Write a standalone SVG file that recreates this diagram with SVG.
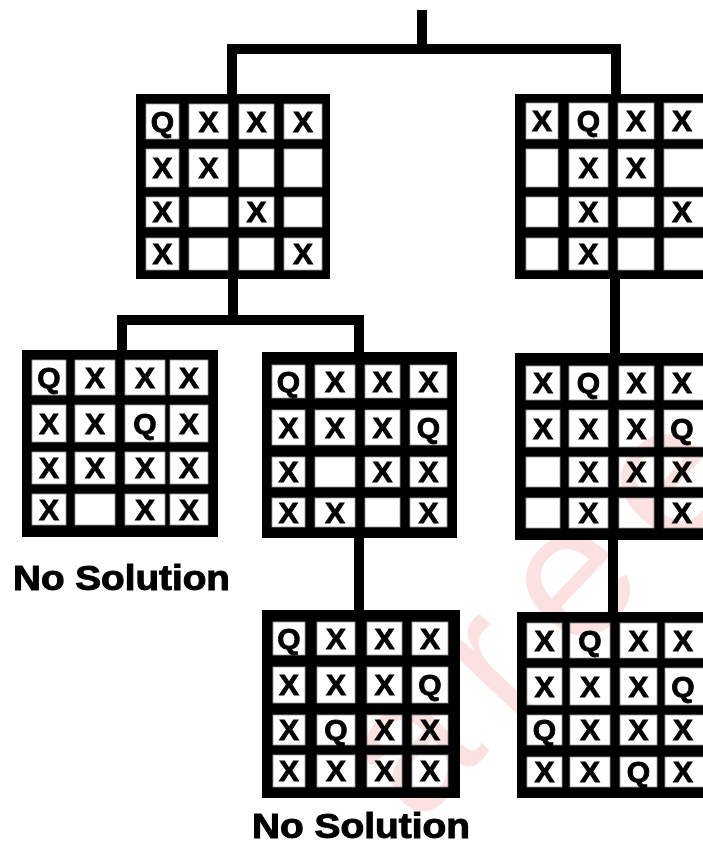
<svg xmlns="http://www.w3.org/2000/svg" width="703" height="843" viewBox="0 0 703 843">
<style>
.bg{fill:#fff}
.board{fill:#000}
.cell{fill:#fff;stroke:#9a9a9a;stroke-width:0.8}
.t{font-family:"Liberation Sans",Arial,sans-serif;font-weight:bold;font-size:30px;fill:#000;stroke:#000;stroke-width:0.9;text-anchor:middle}
.lbl{font-family:"Liberation Sans",Arial,sans-serif;font-weight:bold;font-size:35px;fill:#000;stroke:#000;stroke-width:1}
.wire{stroke:#000;stroke-width:10;fill:none;stroke-linecap:butt}
.wm{font-family:"Liberation Sans",Arial,sans-serif;font-size:190px;letter-spacing:32px;fill:#e53935;opacity:0.15;mix-blend-mode:multiply}
</style>
<rect class="bg" x="0" y="0" width="703" height="843"/>
<g id="connectors">
<path class="wire" d="M422,10 V49" stroke-linecap="round"/>
<path class="wire" d="M422,30 V49"/>
<path class="wire" d="M227,49 H621"/>
<path class="wire" d="M232,44 V96"/>
<path class="wire" d="M616,44 V96"/>
<path class="wire" d="M233,277 V320"/>
<path class="wire" d="M117,320 H364"/>
<path class="wire" d="M122,315 V352"/>
<path class="wire" d="M359,315 V354"/>
<path class="wire" d="M359,536 V612"/>
<path class="wire" d="M615,277 V355"/>
<path class="wire" d="M613,538 V614"/>
</g>
<g id="board1">
<rect class="board" x="136" y="94" width="194" height="185"/>
<rect class="cell" x="146" y="104" width="33" height="35"/><rect class="cell" x="189" y="104" width="39" height="35"/><rect class="cell" x="239" y="104" width="35" height="35"/><rect class="cell" x="284" y="104" width="38" height="35"/>
<rect class="cell" x="146" y="149" width="33" height="38"/><rect class="cell" x="189" y="149" width="39" height="38"/><rect class="cell" x="239" y="149" width="35" height="38"/><rect class="cell" x="284" y="149" width="38" height="38"/>
<rect class="cell" x="146" y="197" width="33" height="30"/><rect class="cell" x="189" y="197" width="39" height="30"/><rect class="cell" x="239" y="197" width="35" height="30"/><rect class="cell" x="284" y="197" width="38" height="30"/>
<rect class="cell" x="146" y="238" width="33" height="32"/><rect class="cell" x="189" y="238" width="39" height="32"/><rect class="cell" x="239" y="238" width="35" height="32"/><rect class="cell" x="284" y="238" width="38" height="32"/>
<text class="t" x="162.5" y="131.5">Q</text><text class="t" x="208.5" y="131.5">X</text><text class="t" x="256.5" y="131.5">X</text><text class="t" x="303" y="131.5">X</text>
<text class="t" x="162.5" y="178">X</text><text class="t" x="208.5" y="178">X</text>
<text class="t" x="162.5" y="222">X</text><text class="t" x="256.5" y="222">X</text>
<text class="t" x="162.5" y="264">X</text><text class="t" x="303" y="264">X</text>
</g>
<g id="board2">
<rect class="board" x="515" y="94" width="195" height="185"/>
<rect class="cell" x="526" y="103" width="32" height="36"/><rect class="cell" x="569" y="103" width="39" height="36"/><rect class="cell" x="618" y="103" width="36" height="36"/><rect class="cell" x="664" y="103" width="40" height="36"/>
<rect class="cell" x="526" y="149" width="32" height="38"/><rect class="cell" x="569" y="149" width="39" height="38"/><rect class="cell" x="618" y="149" width="36" height="38"/><rect class="cell" x="664" y="149" width="40" height="38"/>
<rect class="cell" x="526" y="197" width="32" height="30"/><rect class="cell" x="569" y="197" width="39" height="30"/><rect class="cell" x="618" y="197" width="36" height="30"/><rect class="cell" x="664" y="197" width="40" height="30"/>
<rect class="cell" x="526" y="238" width="32" height="32"/><rect class="cell" x="569" y="238" width="39" height="32"/><rect class="cell" x="618" y="238" width="36" height="32"/><rect class="cell" x="664" y="238" width="40" height="32"/>
<text class="t" x="542" y="131">X</text><text class="t" x="588.5" y="131">Q</text><text class="t" x="636" y="131">X</text><text class="t" x="682" y="131">X</text>
<text class="t" x="588.5" y="178">X</text><text class="t" x="636" y="178">X</text>
<text class="t" x="588.5" y="222">X</text><text class="t" x="682" y="222">X</text>
<text class="t" x="588.5" y="264">X</text>
</g>
<g id="board3">
<rect class="board" x="22" y="350" width="196" height="187"/>
<rect class="cell" x="32" y="360" width="34" height="35"/><rect class="cell" x="75" y="360" width="40" height="35"/><rect class="cell" x="125" y="360" width="40" height="35"/><rect class="cell" x="170" y="360" width="38" height="35"/>
<rect class="cell" x="32" y="405" width="34" height="37"/><rect class="cell" x="75" y="405" width="40" height="37"/><rect class="cell" x="125" y="405" width="40" height="37"/><rect class="cell" x="170" y="405" width="38" height="37"/>
<rect class="cell" x="32" y="452" width="34" height="32"/><rect class="cell" x="75" y="452" width="40" height="32"/><rect class="cell" x="125" y="452" width="40" height="32"/><rect class="cell" x="170" y="452" width="38" height="32"/>
<rect class="cell" x="32" y="494" width="34" height="31"/><rect class="cell" x="75" y="494" width="40" height="31"/><rect class="cell" x="125" y="494" width="40" height="31"/><rect class="cell" x="170" y="494" width="38" height="31"/>
<text class="t" x="49" y="387.5">Q</text><text class="t" x="95" y="387.5">X</text><text class="t" x="145" y="387.5">X</text><text class="t" x="189" y="387.5">X</text>
<text class="t" x="49" y="433.5">X</text><text class="t" x="95" y="433.5">X</text><text class="t" x="145" y="433.5">Q</text><text class="t" x="189" y="433.5">X</text>
<text class="t" x="49" y="478">X</text><text class="t" x="95" y="478">X</text><text class="t" x="145" y="478">X</text><text class="t" x="189" y="478">X</text>
<text class="t" x="49" y="519.5">X</text><text class="t" x="145" y="519.5">X</text><text class="t" x="189" y="519.5">X</text>
</g>
<g id="board4">
<rect class="board" x="262" y="352" width="195" height="186"/>
<rect class="cell" x="272" y="365" width="33" height="33"/><rect class="cell" x="315" y="365" width="40" height="33"/><rect class="cell" x="365" y="365" width="35" height="33"/><rect class="cell" x="410" y="365" width="37" height="33"/>
<rect class="cell" x="272" y="410" width="33" height="35"/><rect class="cell" x="315" y="410" width="40" height="35"/><rect class="cell" x="365" y="410" width="35" height="35"/><rect class="cell" x="410" y="410" width="37" height="35"/>
<rect class="cell" x="272" y="457" width="33" height="30"/><rect class="cell" x="315" y="457" width="40" height="30"/><rect class="cell" x="365" y="457" width="35" height="30"/><rect class="cell" x="410" y="457" width="37" height="30"/>
<rect class="cell" x="272" y="498" width="33" height="29"/><rect class="cell" x="315" y="498" width="40" height="29"/><rect class="cell" x="365" y="498" width="35" height="29"/><rect class="cell" x="410" y="498" width="37" height="29"/>
<text class="t" x="288.5" y="391.5">Q</text><text class="t" x="335" y="391.5">X</text><text class="t" x="382.5" y="391.5">X</text><text class="t" x="428.5" y="391.5">X</text>
<text class="t" x="288.5" y="437.5">X</text><text class="t" x="335" y="437.5">X</text><text class="t" x="382.5" y="437.5">X</text><text class="t" x="428.5" y="437.5">Q</text>
<text class="t" x="288.5" y="482">X</text><text class="t" x="382.5" y="482">X</text><text class="t" x="428.5" y="482">X</text>
<text class="t" x="288.5" y="522.5">X</text><text class="t" x="335" y="522.5">X</text><text class="t" x="428.5" y="522.5">X</text>
</g>
<g id="board5">
<rect class="board" x="515" y="353" width="195" height="187"/>
<rect class="cell" x="526" y="366" width="34" height="34"/><rect class="cell" x="569" y="366" width="39" height="34"/><rect class="cell" x="619" y="366" width="35" height="34"/><rect class="cell" x="664" y="366" width="40" height="34"/>
<rect class="cell" x="526" y="410" width="34" height="37"/><rect class="cell" x="569" y="410" width="39" height="37"/><rect class="cell" x="619" y="410" width="35" height="37"/><rect class="cell" x="664" y="410" width="40" height="37"/>
<rect class="cell" x="526" y="457" width="34" height="30"/><rect class="cell" x="569" y="457" width="39" height="30"/><rect class="cell" x="619" y="457" width="35" height="30"/><rect class="cell" x="664" y="457" width="40" height="30"/>
<rect class="cell" x="526" y="498" width="34" height="30"/><rect class="cell" x="569" y="498" width="39" height="30"/><rect class="cell" x="619" y="498" width="35" height="30"/><rect class="cell" x="664" y="498" width="40" height="30"/>
<text class="t" x="543" y="393">X</text><text class="t" x="588.5" y="393">Q</text><text class="t" x="636.5" y="393">X</text><text class="t" x="682" y="393">X</text>
<text class="t" x="543" y="438.5">X</text><text class="t" x="588.5" y="438.5">X</text><text class="t" x="636.5" y="438.5">X</text><text class="t" x="682" y="438.5">Q</text>
<text class="t" x="588.5" y="482">X</text><text class="t" x="636.5" y="482">X</text><text class="t" x="682" y="482">X</text>
<text class="t" x="588.5" y="523">X</text><text class="t" x="682" y="523">X</text>
</g>
<g id="board6">
<rect class="board" x="262" y="610" width="198" height="188"/>
<rect class="cell" x="273" y="622" width="32" height="33"/><rect class="cell" x="317" y="622" width="38" height="33"/><rect class="cell" x="367" y="622" width="35" height="33"/><rect class="cell" x="412" y="622" width="36" height="33"/>
<rect class="cell" x="273" y="667" width="32" height="36"/><rect class="cell" x="317" y="667" width="38" height="36"/><rect class="cell" x="367" y="667" width="35" height="36"/><rect class="cell" x="412" y="667" width="36" height="36"/>
<rect class="cell" x="273" y="715" width="32" height="30"/><rect class="cell" x="317" y="715" width="38" height="30"/><rect class="cell" x="367" y="715" width="35" height="30"/><rect class="cell" x="412" y="715" width="36" height="30"/>
<rect class="cell" x="273" y="755" width="32" height="32"/><rect class="cell" x="317" y="755" width="38" height="32"/><rect class="cell" x="367" y="755" width="35" height="32"/><rect class="cell" x="412" y="755" width="36" height="32"/>
<text class="t" x="289" y="648.5">Q</text><text class="t" x="336" y="648.5">X</text><text class="t" x="384.5" y="648.5">X</text><text class="t" x="430" y="648.5">X</text>
<text class="t" x="289" y="695">X</text><text class="t" x="336" y="695">X</text><text class="t" x="384.5" y="695">X</text><text class="t" x="430" y="695">Q</text>
<text class="t" x="289" y="740">X</text><text class="t" x="336" y="740">Q</text><text class="t" x="384.5" y="740">X</text><text class="t" x="430" y="740">X</text>
<text class="t" x="289" y="781">X</text><text class="t" x="336" y="781">X</text><text class="t" x="384.5" y="781">X</text><text class="t" x="430" y="781">X</text>
</g>
<g id="board7">
<rect class="board" x="517" y="612" width="193" height="186"/>
<rect class="cell" x="527" y="623" width="35" height="35"/><rect class="cell" x="570" y="623" width="40" height="35"/><rect class="cell" x="620" y="623" width="37" height="35"/><rect class="cell" x="665" y="623" width="40" height="35"/>
<rect class="cell" x="527" y="668" width="35" height="37"/><rect class="cell" x="570" y="668" width="40" height="37"/><rect class="cell" x="620" y="668" width="37" height="37"/><rect class="cell" x="665" y="668" width="40" height="37"/>
<rect class="cell" x="527" y="715" width="35" height="30"/><rect class="cell" x="570" y="715" width="40" height="30"/><rect class="cell" x="620" y="715" width="37" height="30"/><rect class="cell" x="665" y="715" width="40" height="30"/>
<rect class="cell" x="527" y="757" width="35" height="30"/><rect class="cell" x="570" y="757" width="40" height="30"/><rect class="cell" x="620" y="757" width="37" height="30"/><rect class="cell" x="665" y="757" width="40" height="30"/>
<text class="t" x="544.5" y="650.5">X</text><text class="t" x="590" y="650.5">Q</text><text class="t" x="638.5" y="650.5">X</text><text class="t" x="683" y="650.5">X</text>
<text class="t" x="544.5" y="696.5">X</text><text class="t" x="590" y="696.5">X</text><text class="t" x="638.5" y="696.5">X</text><text class="t" x="683" y="696.5">Q</text>
<text class="t" x="544.5" y="740">Q</text><text class="t" x="590" y="740">X</text><text class="t" x="638.5" y="740">X</text><text class="t" x="683" y="740">X</text>
<text class="t" x="544.5" y="782">X</text><text class="t" x="590" y="782">X</text><text class="t" x="638.5" y="782">Q</text><text class="t" x="683" y="782">X</text>
</g>
<g id="label-no-solution-1">
<text class="lbl" x="13" y="590" textLength="217" lengthAdjust="spacingAndGlyphs">No Solution</text>
</g>
<g id="label-no-solution-2">
<text class="lbl" x="252" y="838" textLength="218" lengthAdjust="spacingAndGlyphs">No Solution</text>
</g>
<g id="watermark">
<text class="wm" x="417" y="827" transform="rotate(-46.5 417 827)">areer</text>
</g>
</svg>
